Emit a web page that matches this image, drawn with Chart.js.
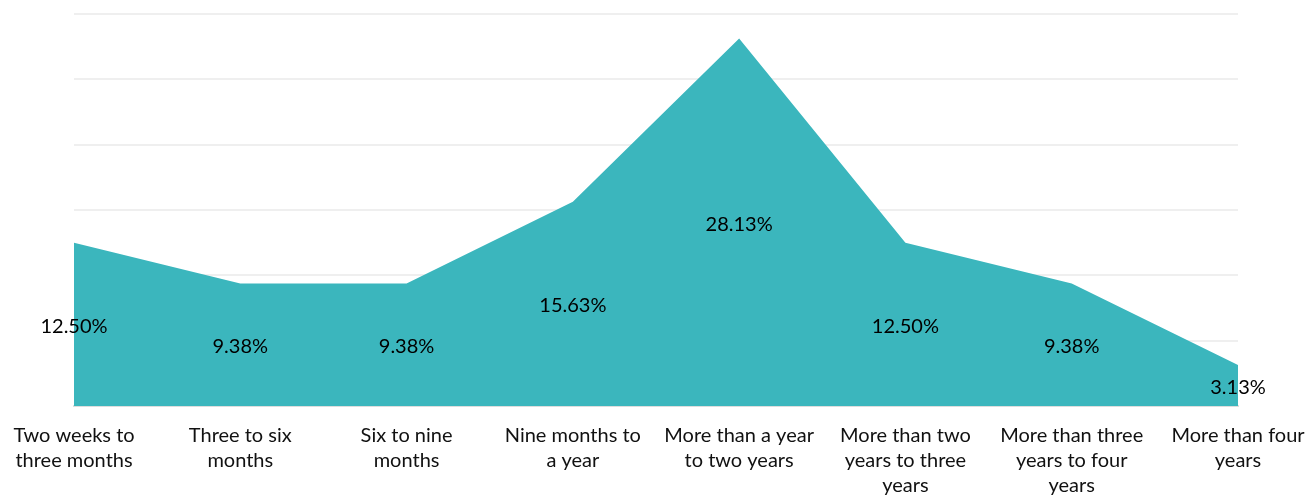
<!DOCTYPE html>
<html>
<head>
<meta charset="utf-8">
<script src="https://cdn.jsdelivr.net/npm/chart.js@4"></script>
<style>
    html, body { margin: 0; padding: 0; background: #fff; }
    #wrap { width: 1308px; height: 497px; }
</style>
</head>
<body>
<div id="wrap"><canvas id="durationChart" width="1308" height="497"></canvas></div>
<script>
// Categories and values
const categories = [
    ['Two weeks to', 'three months'],
    ['Three to six', 'months'],
    ['Six to nine', 'months'],
    ['Nine months to', 'a year'],
    ['More than a year', 'to two years'],
    ['More than two', 'years to three', 'years'],
    ['More than three', 'years to four', 'years'],
    ['More than four', 'years']
];
const shares = [12.50, 9.38, 9.38, 15.63, 28.13, 12.50, 9.38, 3.13];
const yTicks = [0, 5, 10, 15, 20, 25, 30];

const fontFamily = 'Lato, "Open Sans", sans-serif';

// Draw the value labels half way between each point and the baseline
const midLabels = {
    id: 'midLabels',
    afterDatasetsDraw(chart) {
        const ctx = chart.ctx;
        const meta = chart.getDatasetMeta(0);
        const base = chart.scales.y.getPixelForValue(0);
        ctx.save();
        ctx.font = '20px ' + fontFamily;
        ctx.fillStyle = '#000';
        ctx.textAlign = 'center';
        ctx.textBaseline = 'middle';
        meta.data.forEach((pt, i) => {
            ctx.fillText(shares[i].toFixed(2) + '%', pt.x, (pt.y + base) / 2 + 2);
        });
        ctx.restore();
    }
};

new Chart(document.getElementById('durationChart').getContext('2d'), {
    type: 'line',
    data: {
        labels: categories,
        datasets: [{
            data: shares,
            fill: 'origin',
            backgroundColor: '#3bb6bd',
            borderWidth: 0,
            pointRadius: 0,
            tension: 0
        }]
    },
    options: {
        responsive: false,
        animation: false,
        layout: { padding: { top: 14, right: 70, left: 0, bottom: 0 } },
        plugins: { legend: { display: false }, tooltip: { enabled: false } },
        scales: {
            x: {
                offset: false,
                grid: { display: false, drawTicks: false },
                border: { display: true, color: '#dddddd', width: 2 },
                ticks: {
                    color: '#111',
                    font: { family: fontFamily, size: 20, lineHeight: 1.25 },
                    maxRotation: 0,
                    autoSkip: false,
                    padding: 17
                },
                afterFit(scale) {
                    scale.height = 91;
                    scale.paddingLeft = 0;
                    scale.paddingRight = 0;
                }
            },
            y: {
                min: yTicks[0],
                max: yTicks[yTicks.length - 1],
                afterBuildTicks(scale) { scale.ticks = yTicks.map(v => ({ value: v })); },
                grid: { color: '#efefef', lineWidth: 2, drawTicks: false },
                border: { display: false },
                ticks: { display: false },
                afterFit(scale) {
                    scale.width = 74;
                    scale.paddingTop = 0;
                    scale.paddingBottom = 0;
                }
            }
        }
    },
    plugins: [midLabels]
});
</script>
</body>
</html>
